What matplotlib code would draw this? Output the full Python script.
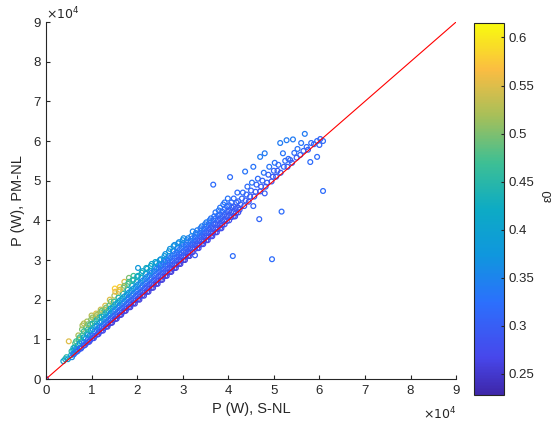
import numpy as np
import matplotlib.pyplot as plt
from matplotlib.colors import LinearSegmentedColormap, Normalize
from matplotlib.cm import ScalarMappable

# power values in units of 1e4 W
p_snl = [0.00,
    0.38, 0.42, 0.45, 0.48, 0.50,
    0.55, 0.56, 0.57,
    0.61, 0.62, 0.63, 0.64,
    0.69, 0.70, 0.70, 0.72, 0.71,
    0.77, 0.78, 0.78, 0.80, 0.79, 0.80,
    0.86, 0.88, 0.87, 0.90, 0.88, 0.90,
    0.95, 0.97, 0.96, 0.98, 0.97, 0.99, 1.00,
    1.05, 1.07, 1.06, 1.08, 1.07, 1.09, 1.10,
    1.15, 1.17, 1.16, 1.18, 1.17, 1.19, 1.20,
    1.25, 1.27, 1.26, 1.28, 1.27, 1.29, 1.30,
    1.35, 1.37, 1.36, 1.38, 1.37, 1.39, 1.40,
    1.45, 1.47, 1.46, 1.48, 1.47, 1.49, 1.50, 1.51,
    1.55, 1.57, 1.56, 1.58, 1.57, 1.59, 1.60, 1.62,
    1.65, 1.67, 1.66, 1.68, 1.67, 1.69, 1.70, 1.72,
    1.75, 1.77, 1.76, 1.78, 1.77, 1.79, 1.80, 1.82,
    1.85, 1.87, 1.86, 1.88, 1.87, 1.89, 1.90, 1.92,
    1.95, 1.97, 1.96, 1.98, 1.97, 1.99, 2.00, 2.02,
    2.05, 2.07, 2.06, 2.08, 2.07, 2.09, 2.10,
    2.15, 2.17, 2.16, 2.18, 2.17, 2.19, 2.20,
    2.25, 2.27, 2.26, 2.28, 2.27, 2.29, 2.30,
    2.35, 2.37, 2.36, 2.38, 2.37, 2.39, 2.40,
    2.45, 2.47, 2.46, 2.48, 2.47, 2.49, 2.50,
    2.55, 2.57, 2.56, 2.58, 2.57, 2.59, 2.60,
    2.65, 2.67, 2.66, 2.68, 2.67, 2.69, 2.70,
    2.75, 2.77, 2.76, 2.78, 2.77, 2.79, 2.80,
    2.85, 2.87, 2.86, 2.88, 2.87, 2.89, 2.90,
    2.95, 2.97, 2.96, 2.98, 2.97, 2.99, 3.00,
    3.05, 3.07, 3.06, 3.08, 3.07, 3.09,
    3.15, 3.17, 3.16, 3.18, 3.17, 3.19,
    3.27, 3.27, 3.26, 3.28, 3.27, 3.29,
    3.35, 3.37, 3.36, 3.38, 3.37, 3.39,
    3.45, 3.47, 3.46, 3.48, 3.47, 3.49,
    3.55, 3.57, 3.56, 3.58, 3.57, 3.59,
    3.65, 3.67, 3.66, 3.68, 3.67, 3.69, 3.67,
    3.75, 3.77, 3.76, 3.78, 3.77, 3.79,
    3.85, 3.87, 3.86, 3.88, 3.87, 3.89,
    3.97, 3.96, 3.98, 3.97, 3.99, 4.04,
    4.07, 4.06, 4.08, 4.07, 4.10,
    4.15, 4.17, 4.16, 4.18, 4.20,
    4.25, 4.27, 4.30, 4.32, 4.37,
    4.35, 4.38, 4.40, 4.42,
    4.45, 4.48, 4.50, 4.52, 4.55, 4.55,
    4.57, 4.60, 4.62, 4.65, 4.68,
    4.70, 4.70, 4.72, 4.75, 4.78, 4.80, 4.80,
    4.82, 4.85, 4.88, 4.90, 4.96,
    4.95, 4.98, 5.00, 5.02,
    5.05, 5.08, 5.10, 5.14, 5.17,
    5.15, 5.20, 5.22, 5.25, 5.28,
    5.30, 5.32, 5.36, 5.40, 5.42, 5.45,
    5.50, 5.52, 5.58, 5.60, 5.68, 5.65,
    5.72, 5.75, 5.80, 5.82, 5.88,
    5.95, 5.95, 6.02, 6.08, 6.08, 6.00]

p_pmnl = [0.00,
    0.45, 0.50, 0.55, 0.50, 0.95,
    0.60, 0.70, 0.55,
    0.62, 0.65, 0.80, 0.90,
    0.70, 0.72, 0.85, 1.00, 1.10,
    0.77, 0.80, 0.95, 1.10, 1.25, 1.35,
    0.86, 0.90, 1.02, 1.15, 1.30, 1.45,
    0.94, 0.98, 1.10, 1.22, 1.38, 1.50, 1.60,
    1.03, 1.08, 1.20, 1.32, 1.45, 1.58, 1.65,
    1.13, 1.18, 1.30, 1.42, 1.55, 1.68, 1.75,
    1.22, 1.28, 1.38, 1.50, 1.62, 1.75, 1.85,
    1.32, 1.38, 1.48, 1.60, 1.72, 1.85, 2.00,
    1.42, 1.48, 1.58, 1.70, 1.82, 1.95, 2.10, 2.28,
    1.52, 1.58, 1.68, 1.80, 1.92, 2.05, 2.20, 2.32,
    1.62, 1.68, 1.78, 1.90, 2.02, 2.15, 2.30, 2.45,
    1.72, 1.78, 1.88, 2.00, 2.12, 2.25, 2.40, 2.55,
    1.81, 1.88, 1.98, 2.10, 2.22, 2.35, 2.50, 2.60,
    1.90, 1.98, 2.08, 2.20, 2.32, 2.45, 2.58, 2.80,
    2.00, 2.08, 2.18, 2.30, 2.42, 2.55, 2.68,
    2.10, 2.18, 2.28, 2.40, 2.52, 2.65, 2.80,
    2.20, 2.28, 2.38, 2.50, 2.62, 2.72, 2.85,
    2.30, 2.38, 2.48, 2.60, 2.72, 2.82, 2.95,
    2.40, 2.48, 2.58, 2.70, 2.80, 2.90, 3.00,
    2.50, 2.58, 2.68, 2.78, 2.90, 3.00, 3.10,
    2.60, 2.68, 2.78, 2.88, 3.00, 3.10, 3.22,
    2.70, 2.78, 2.88, 2.98, 3.10, 3.22, 3.35,
    2.80, 2.88, 2.98, 3.08, 3.20, 3.30, 3.42,
    2.90, 2.98, 3.08, 3.18, 3.30, 3.40, 3.50,
    3.00, 3.08, 3.18, 3.28, 3.38, 3.50,
    3.10, 3.18, 3.28, 3.38, 3.48, 3.60,
    3.12, 3.28, 3.38, 3.48, 3.58, 3.68,
    3.30, 3.38, 3.48, 3.58, 3.68, 3.80,
    3.40, 3.48, 3.58, 3.68, 3.78, 3.90,
    3.50, 3.58, 3.68, 3.78, 3.88, 4.00,
    3.60, 3.68, 3.78, 3.90, 4.00, 4.10, 4.90,
    3.70, 3.78, 3.88, 4.00, 4.12, 4.25,
    3.80, 3.88, 3.98, 4.10, 4.22, 4.40,
    3.98, 4.10, 4.22, 4.35, 4.55, 5.09,
    4.08, 4.20, 4.32, 4.45, 3.10,
    4.10, 4.18, 4.30, 4.45, 4.70,
    4.27, 4.40, 4.55, 4.70, 5.23,
    4.36, 4.50, 4.65, 4.85,
    4.47, 4.60, 4.75, 4.95, 5.35, 4.36,
    4.60, 4.72, 4.90, 5.05, 4.03,
    5.60, 4.73, 4.85, 5.00, 5.20, 5.69, 4.68,
    4.85, 4.95, 5.15, 5.35, 3.02,
    4.98, 5.10, 5.25, 5.45,
    5.10, 5.25, 5.40, 5.95, 4.22,
    5.20, 5.69, 5.35, 5.50, 6.02,
    5.35, 5.55, 5.52, 5.45, 6.04, 5.70,
    5.58, 5.80, 5.65, 5.95, 6.18, 5.75,
    5.85, 5.78, 5.47, 5.95, 5.92,
    5.60, 6.00, 6.05, 6.00, 4.74, 5.90]

eps0 = [0.26,
    0.40, 0.42, 0.45, 0.38, 0.55,
    0.40, 0.45, 0.36,
    0.33, 0.36, 0.45, 0.48,
    0.30, 0.33, 0.42, 0.47, 0.52,
    0.29, 0.32, 0.40, 0.46, 0.50, 0.52,
    0.28, 0.31, 0.38, 0.43, 0.48, 0.52,
    0.27, 0.30, 0.36, 0.42, 0.47, 0.50, 0.53,
    0.27, 0.30, 0.35, 0.40, 0.46, 0.52, 0.55,
    0.27, 0.29, 0.34, 0.40, 0.45, 0.50, 0.54,
    0.27, 0.29, 0.33, 0.38, 0.43, 0.48, 0.55,
    0.26, 0.29, 0.33, 0.37, 0.42, 0.47, 0.55,
    0.26, 0.28, 0.32, 0.36, 0.41, 0.46, 0.52, 0.58,
    0.26, 0.28, 0.32, 0.36, 0.40, 0.45, 0.52, 0.58,
    0.26, 0.28, 0.32, 0.35, 0.39, 0.44, 0.50, 0.55,
    0.26, 0.28, 0.31, 0.35, 0.38, 0.42, 0.47, 0.50,
    0.26, 0.28, 0.31, 0.34, 0.37, 0.41, 0.45, 0.47,
    0.26, 0.28, 0.31, 0.34, 0.37, 0.40, 0.43, 0.38,
    0.26, 0.28, 0.31, 0.33, 0.36, 0.40, 0.44,
    0.26, 0.28, 0.30, 0.33, 0.36, 0.39, 0.43,
    0.26, 0.28, 0.30, 0.33, 0.35, 0.38, 0.42,
    0.26, 0.28, 0.30, 0.32, 0.35, 0.38, 0.41,
    0.26, 0.28, 0.30, 0.32, 0.34, 0.37, 0.40,
    0.26, 0.28, 0.30, 0.32, 0.34, 0.36, 0.39,
    0.26, 0.28, 0.30, 0.32, 0.34, 0.36, 0.38,
    0.26, 0.28, 0.30, 0.31, 0.33, 0.35, 0.38,
    0.26, 0.28, 0.30, 0.31, 0.33, 0.35, 0.37,
    0.26, 0.28, 0.30, 0.31, 0.33, 0.35, 0.37,
    0.26, 0.28, 0.30, 0.31, 0.33, 0.35,
    0.26, 0.28, 0.30, 0.31, 0.33, 0.35,
    0.30, 0.28, 0.30, 0.31, 0.33, 0.35,
    0.27, 0.28, 0.30, 0.31, 0.33, 0.34,
    0.27, 0.28, 0.30, 0.31, 0.32, 0.34,
    0.27, 0.28, 0.30, 0.31, 0.32, 0.34,
    0.27, 0.28, 0.30, 0.31, 0.32, 0.33, 0.32,
    0.27, 0.28, 0.30, 0.31, 0.32, 0.34,
    0.27, 0.28, 0.30, 0.31, 0.32, 0.33,
    0.29, 0.30, 0.31, 0.32, 0.33, 0.32,
    0.29, 0.30, 0.31, 0.32, 0.32,
    0.28, 0.29, 0.30, 0.31, 0.32,
    0.29, 0.30, 0.31, 0.32, 0.33,
    0.29, 0.30, 0.31, 0.32,
    0.29, 0.30, 0.31, 0.33, 0.33, 0.31,
    0.29, 0.30, 0.31, 0.32, 0.31,
    0.34, 0.29, 0.30, 0.31, 0.33, 0.34, 0.30,
    0.29, 0.30, 0.31, 0.33, 0.32,
    0.29, 0.30, 0.31, 0.33,
    0.29, 0.30, 0.32, 0.34, 0.32,
    0.30, 0.33, 0.31, 0.32, 0.34,
    0.30, 0.32, 0.31, 0.30, 0.34, 0.32,
    0.30, 0.33, 0.31, 0.33, 0.34, 0.31,
    0.32, 0.30, 0.32, 0.32, 0.31,
    0.32, 0.32, 0.31, 0.32, 0.32, 0.31]

# second batch of points filling the dense part of the band
p_snl_b = [0.60, 0.60, 0.60,
    0.66, 0.66, 0.66,
    0.74, 0.74, 0.74,
    0.83, 0.83, 0.83, 0.83, 0.83,
    0.92, 0.92, 0.92, 0.92, 0.92,
    1.02, 1.02, 1.02, 1.02, 1.02,
    1.12, 1.12, 1.12, 1.12, 1.12,
    1.22, 1.22, 1.22, 1.22, 1.22,
    1.32, 1.32, 1.32, 1.32, 1.32,
    1.42, 1.42, 1.42, 1.42, 1.42,
    1.52, 1.52, 1.52, 1.52, 1.52,
    1.62, 1.62, 1.62, 1.62, 1.62,
    1.72, 1.72, 1.72, 1.72, 1.72,
    1.82, 1.82, 1.82, 1.82, 1.82,
    1.92, 1.92, 1.92, 1.92, 1.92,
    2.02, 2.02, 2.02, 2.02, 2.02,
    2.12, 2.12, 2.12, 2.12, 2.12,
    2.22, 2.22, 2.22, 2.22, 2.22,
    2.32, 2.32, 2.32, 2.32, 2.32,
    2.42, 2.42, 2.42, 2.42, 2.42,
    2.52, 2.52, 2.52, 2.52, 2.52,
    2.62, 2.62, 2.62, 2.62, 2.62,
    2.72, 2.72, 2.72, 2.72, 2.72,
    2.82, 2.82, 2.82, 2.82, 2.82,
    2.92, 2.92, 2.92, 2.92, 2.92,
    3.02, 3.02, 3.02, 3.02, 3.02,
    3.12, 3.12, 3.12, 3.12, 3.12,
    3.22, 3.22, 3.22, 3.22, 3.22,
    3.32, 3.32, 3.32, 3.32, 3.32,
    3.42, 3.42, 3.42, 3.42, 3.42,
    3.52, 3.52, 3.52, 3.52, 3.52,
    3.62, 3.62, 3.62, 3.62, 3.62,
    3.72, 3.72, 3.72, 3.72, 3.72,
    3.82, 3.82, 3.82, 3.82, 3.82,
    3.92, 3.92, 3.92, 3.92, 3.92,
    4.02, 4.02, 4.02, 4.02,
    4.12, 4.12, 4.12, 4.12,
    4.22, 4.22, 4.22]

p_pmnl_b = [0.63, 0.72, 0.78,
    0.68, 0.76, 0.95,
    0.76, 0.90, 1.05,
    0.84, 0.92, 1.05, 1.20, 1.40,
    0.93, 1.00, 1.12, 1.25, 1.38,
    1.03, 1.10, 1.25, 1.40, 1.55,
    1.12, 1.22, 1.35, 1.50, 1.62,
    1.22, 1.32, 1.45, 1.58, 1.72,
    1.32, 1.42, 1.55, 1.68, 1.80,
    1.41, 1.52, 1.65, 1.78, 1.95,
    1.51, 1.62, 1.75, 1.88, 2.20,
    1.61, 1.72, 1.85, 1.98, 2.25,
    1.71, 1.82, 1.95, 2.08, 2.35,
    1.81, 1.92, 2.05, 2.18, 2.45,
    1.91, 2.02, 2.15, 2.28, 2.50,
    2.01, 2.12, 2.25, 2.38, 2.60,
    2.11, 2.22, 2.35, 2.48, 2.72,
    2.20, 2.32, 2.45, 2.58, 2.78,
    2.30, 2.42, 2.55, 2.68, 2.90,
    2.40, 2.52, 2.65, 2.78, 2.92,
    2.50, 2.62, 2.75, 2.85, 3.02,
    2.60, 2.72, 2.85, 2.95, 3.15,
    2.70, 2.82, 2.95, 3.05, 3.28,
    2.80, 2.92, 3.05, 3.15, 3.38,
    2.90, 3.02, 3.15, 3.25, 3.45,
    3.00, 3.12, 3.22, 3.35, 3.55,
    3.10, 3.22, 3.32, 3.45, 3.55,
    3.20, 3.32, 3.42, 3.55, 3.72,
    3.30, 3.42, 3.52, 3.65, 3.75,
    3.40, 3.52, 3.62, 3.75, 3.85,
    3.50, 3.62, 3.72, 3.85, 3.95,
    3.60, 3.72, 3.82, 3.95, 4.05,
    3.70, 3.82, 3.92, 4.05, 4.20,
    3.80, 3.92, 4.05, 4.15, 4.32,
    3.90, 4.02, 4.15, 4.28, 4.45,
    4.00, 4.12, 4.25, 4.38,
    4.10, 4.22, 4.35, 4.55,
    4.20, 4.32, 4.48]

eps0_b = [0.32, 0.38, 0.43,
    0.31, 0.36, 0.47,
    0.29, 0.38, 0.47,
    0.28, 0.33, 0.41, 0.47, 0.53,
    0.28, 0.32, 0.39, 0.45, 0.50,
    0.28, 0.32, 0.38, 0.44, 0.51,
    0.27, 0.32, 0.37, 0.43, 0.52,
    0.27, 0.31, 0.36, 0.42, 0.50,
    0.27, 0.31, 0.36, 0.41, 0.50,
    0.26, 0.30, 0.35, 0.40, 0.50,
    0.26, 0.30, 0.34, 0.40, 0.56,
    0.26, 0.30, 0.34, 0.39, 0.55,
    0.26, 0.30, 0.34, 0.38, 0.50,
    0.26, 0.30, 0.33, 0.37, 0.47,
    0.26, 0.30, 0.33, 0.37, 0.44,
    0.26, 0.30, 0.33, 0.36, 0.42,
    0.26, 0.29, 0.32, 0.35, 0.41,
    0.26, 0.29, 0.32, 0.35, 0.40,
    0.26, 0.29, 0.32, 0.35, 0.40,
    0.26, 0.29, 0.32, 0.34, 0.38,
    0.26, 0.29, 0.31, 0.33, 0.37,
    0.26, 0.29, 0.31, 0.33, 0.37,
    0.26, 0.29, 0.31, 0.33, 0.37,
    0.26, 0.29, 0.31, 0.33, 0.36,
    0.26, 0.29, 0.31, 0.33, 0.36,
    0.26, 0.29, 0.31, 0.33, 0.36,
    0.26, 0.29, 0.31, 0.33, 0.35,
    0.26, 0.29, 0.31, 0.33, 0.35,
    0.27, 0.29, 0.31, 0.33, 0.34,
    0.27, 0.29, 0.31, 0.32, 0.34,
    0.27, 0.29, 0.31, 0.32, 0.34,
    0.27, 0.29, 0.30, 0.32, 0.33,
    0.27, 0.29, 0.30, 0.32, 0.33,
    0.28, 0.29, 0.30, 0.32, 0.33,
    0.28, 0.29, 0.30, 0.32, 0.33,
    0.28, 0.29, 0.30, 0.32,
    0.28, 0.29, 0.30, 0.32,
    0.28, 0.29, 0.31]

x_ticks = list(range(0, 10))
cbar_ticks = [0.25, 0.3, 0.35, 0.4, 0.45, 0.5, 0.55, 0.6]

parula = LinearSegmentedColormap.from_list('parula', [
    (0.000, (0.242, 0.150, 0.660)),
    (0.100, (0.280, 0.278, 0.922)),
    (0.250, (0.170, 0.440, 0.990)),
    (0.375, (0.060, 0.590, 0.870)),
    (0.500, (0.050, 0.670, 0.770)),
    (0.625, (0.240, 0.750, 0.580)),
    (0.750, (0.650, 0.750, 0.350)),
    (0.875, (0.980, 0.740, 0.260)),
    (1.000, (0.976, 0.983, 0.054))])
norm = Normalize(vmin=0.228, vmax=0.615)

plt.rcParams['font.family'] = ['Liberation Sans', 'DejaVu Sans']
grey = (0.15, 0.15, 0.15)

xs = p_snl + p_snl_b
ys = p_pmnl + p_pmnl_b
cs = np.array(eps0 + eps0_b)

fig = plt.figure(figsize=(5.57, 4.30), dpi=100)
ax = fig.add_axes([0.0826, 0.1186, 0.7362, 0.8302])
cax = fig.add_axes([0.851, 0.0814, 0.054, 0.865])

ax.scatter(xs, ys, s=12, facecolors='none',
           edgecolors=parula(norm(cs)), linewidths=0.9)
ax.plot([0, 9], [0, 9], color='red', lw=0.8)

ax.set_xlim(0, 9)
ax.set_ylim(0, 9)
ax.set_xticks(x_ticks)
ax.set_yticks(x_ticks)
for side in ['top', 'right']:
    ax.spines[side].set_visible(False)
for side in ['left', 'bottom']:
    ax.spines[side].set_color(grey)
ax.tick_params(direction='in', length=3, colors=grey, labelsize=9.5, pad=4)
ax.set_xlabel('P (W), S-NL', fontsize=10.5, color=grey, labelpad=4)
ax.set_ylabel('P (W), PM-NL', fontsize=10.5, color=grey, labelpad=6)
ax.text(0.0, 1.0, r'$\times10^4$', transform=ax.transAxes, fontsize=9,
        color=grey, ha='left', va='bottom')
ax.text(1.0, -0.075, r'$\times10^4$', transform=ax.transAxes, fontsize=9,
        color=grey, ha='right', va='top')

cb = fig.colorbar(ScalarMappable(norm=norm, cmap=parula), cax=cax)
cb.set_ticks(cbar_ticks)
cb.set_ticklabels(['0.25', '0.3', '0.35', '0.4', '0.45', '0.5', '0.55', '0.6'])
cb.outline.set_edgecolor(grey)
cb.ax.tick_params(direction='in', length=2.5, colors=grey, labelsize=9.5)
fig.text(0.985, 0.545, 'ε0', rotation=90, fontsize=9, color=grey,
         ha='center', va='center')

fig.savefig('out.png', dpi=100)
